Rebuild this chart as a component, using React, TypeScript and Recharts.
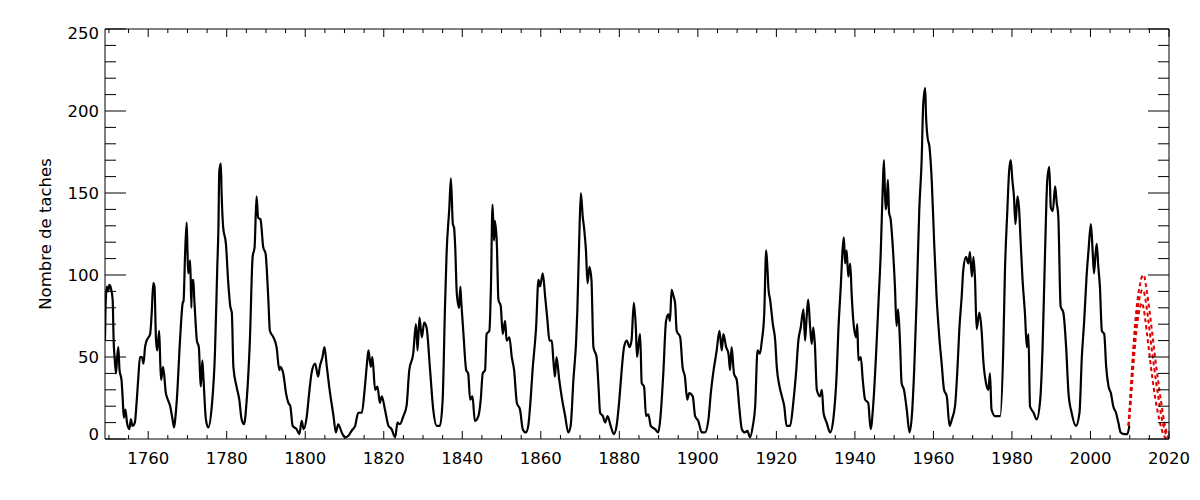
import React from 'react';
import { LineChart, Line, XAxis, YAxis } from 'recharts';

const obs1749 = [
  [1749.0, 60], [1749.2, 85], [1749.5, 93], [1749.8, 90], [1750.1, 94], [1750.5, 92], [1750.95, 85],
  [1751.2, 60], [1751.5, 48], [1751.8, 40], [1752.1, 50], [1752.4, 56], [1752.7, 42], [1753.2, 36],
  [1753.5, 25], [1753.8, 13], [1754.2, 18], [1754.6, 10], [1755.2, 6], [1755.6, 12], [1756.0, 8],
  [1756.6, 10], [1757.1, 24], [1757.5, 38], [1757.9, 50], [1758.4, 50], [1758.8, 46], [1759.2, 56],
  [1759.6, 60], [1760.1, 62], [1760.5, 64], [1760.9, 77], [1761.3, 95], [1761.6, 93], [1762.0, 60],
  [1762.3, 54], [1762.8, 66], [1763.1, 45], [1763.3, 36], [1763.8, 44], [1764.5, 28], [1765.0, 24],
  [1765.6, 20], [1766.2, 12], [1766.6, 7], [1767.0, 15], [1767.3, 24], [1768.1, 60], [1768.8, 83],
  [1769.0, 84], [1769.4, 113], [1769.8, 132], [1770.0, 115], [1770.2, 101], [1770.7, 109], [1771.0, 80],
  [1771.1, 95], [1771.5, 97], [1771.7, 87], [1772.1, 70], [1772.4, 60], [1772.9, 56], [1773.2, 40],
  [1773.4, 32], [1773.8, 48], [1774.1, 36], [1774.7, 12], [1775.3, 7], [1776.2, 20], [1777.0, 52],
  [1777.6, 105], [1777.9, 130], [1778.1, 163], [1778.5, 168], [1778.7, 150], [1779.1, 129], [1779.8, 119],
  [1780.4, 95], [1780.9, 81], [1781.3, 77], [1781.7, 44], [1782.5, 32], [1783.2, 24], [1783.8, 12],
  [1784.4, 9], [1785.1, 24], [1785.9, 60], [1786.6, 111], [1787.1, 117], [1787.6, 148], [1788.0, 135],
  [1788.6, 134], [1789.3, 117], [1789.9, 113], [1790.6, 85], [1791.0, 66], [1791.9, 62], [1792.7, 56],
  [1793.4, 42],
];

const obs1793 = [
  [1793.6, 44], [1794.4, 40], [1795.1, 28], [1795.7, 22], [1796.2, 20], [1796.8, 8], [1797.8, 6],
  [1798.5, 3], [1799.1, 11], [1799.6, 6], [1800.4, 14], [1801.0, 28], [1801.6, 40], [1802.5, 46],
  [1803.3, 38], [1803.7, 44], [1804.4, 50], [1804.9, 56], [1805.5, 44], [1806.1, 32], [1807.2, 14],
  [1807.8, 4], [1808.4, 9], [1809.3, 4], [1810.1, 1], [1811.0, 2], [1811.8, 5], [1812.7, 8],
  [1813.5, 16], [1814.4, 16], [1815.2, 32], [1815.8, 48], [1816.1, 54], [1816.7, 44], [1817.1, 50],
  [1817.8, 30], [1818.4, 32], [1819.0, 22], [1819.5, 26], [1820.3, 18], [1821.2, 8], [1822.0, 6],
  [1822.9, 1], [1823.5, 10], [1824.1, 9], [1825.0, 14], [1825.8, 20], [1826.5, 42], [1827.5, 52],
  [1828.2, 70], [1828.6, 54], [1829.1, 74], [1829.7, 62], [1830.3, 71], [1830.9, 68], [1831.8, 42],
  [1832.6, 18], [1833.5, 8], [1834.3, 8], [1835.0, 24], [1835.6, 81], [1836.0, 113], [1836.7, 141],
  [1837.1, 159], [1837.6, 131], [1837.9, 129], [1838.2, 117], [1838.6, 89], [1839.2, 80],
];

const obs1839 = [
  [1839.5, 93], [1839.7, 85], [1840.3, 64], [1841.0, 42], [1841.5, 40], [1842.0, 24], [1842.6, 26],
  [1843.2, 11], [1844.1, 14], [1844.7, 24], [1845.2, 40], [1845.8, 42], [1846.2, 64], [1846.9, 66],
  [1847.3, 93], [1847.7, 143], [1848.1, 121], [1848.3, 133], [1848.8, 119], [1849.2, 85], [1849.8, 81],
  [1850.3, 64], [1850.9, 72], [1851.3, 60], [1852.0, 62], [1852.6, 50], [1853.2, 42], [1853.9, 22],
  [1854.7, 18], [1855.4, 6], [1856.2, 4], [1856.8, 8], [1857.4, 24], [1857.9, 42], [1858.8, 68],
  [1859.4, 97], [1859.8, 93], [1860.5, 101], [1861.1, 87], [1861.7, 72], [1862.2, 60], [1862.8, 60],
  [1863.2, 48], [1863.6, 38], [1864.0, 50], [1864.7, 36], [1865.3, 26], [1866.2, 14], [1867.0, 4],
  [1867.6, 8], [1868.3, 36], [1869.0, 60], [1869.3, 78], [1869.8, 123], [1870.2, 150], [1870.7, 135],
  [1871.0, 129], [1871.5, 115], [1871.9, 95], [1872.4, 105], [1872.9, 97], [1873.4, 56], [1874.2, 50],
  [1874.7, 32], [1875.1, 16], [1875.8, 14], [1876.4, 10], [1877.0, 14], [1877.8, 8], [1878.6, 3],
  [1879.3, 8], [1880.0, 24], [1880.6, 42], [1881.2, 56], [1881.9, 60], [1882.6, 56], [1883.1, 60],
  [1883.7, 83], [1884.2, 68], [1884.5, 50], [1885.0, 60],
];

const obs1885 = [
  [1885.3, 64], [1885.7, 34], [1886.3, 32], [1886.8, 14], [1887.4, 15], [1888.0, 8], [1889.1, 6],
  [1889.9, 4], [1890.5, 14], [1891.2, 40], [1891.9, 72], [1892.5, 76], [1892.9, 72], [1893.3, 91],
  [1893.8, 87], [1894.2, 83], [1894.6, 66], [1895.5, 62], [1896.1, 44], [1896.7, 38], [1897.3, 24],
  [1897.8, 28], [1898.7, 26], [1899.3, 14], [1900.1, 11], [1901.0, 4], [1901.8, 4], [1902.7, 12],
  [1903.3, 28], [1903.9, 40], [1904.8, 54], [1905.5, 66], [1906.1, 54], [1906.5, 64], [1907.2, 56],
  [1907.8, 52], [1908.2, 42], [1908.6, 56], [1909.2, 40], [1909.9, 36], [1910.6, 18], [1911.2, 6],
  [1912.0, 4], [1912.6, 5], [1913.3, 1], [1914.0, 8], [1914.6, 20], [1915.2, 54], [1915.8, 52],
  [1916.3, 60], [1916.9, 76], [1917.4, 115], [1917.7, 105], [1918.0, 91], [1918.4, 85], [1919.1, 70],
  [1919.7, 60], [1920.1, 44], [1920.8, 32], [1921.4, 26], [1922.0, 20], [1922.6, 8], [1923.5, 8],
  [1924.3, 22], [1925.0, 40], [1925.6, 60], [1926.2, 68], [1926.9, 79], [1927.3, 60], [1927.7, 74],
  [1928.1, 85], [1928.6, 68], [1929.0, 58], [1929.4, 68], [1929.8, 58], [1930.3, 30], [1931.1, 26],
];

const obs1931 = [
  [1931.6, 30], [1932.0, 16], [1932.8, 10], [1933.7, 4], [1934.5, 12], [1935.4, 42], [1935.8, 67],
  [1936.4, 93], [1936.9, 117], [1937.2, 123], [1937.5, 107], [1937.9, 115], [1938.3, 99], [1938.8, 107],
  [1939.2, 87], [1939.6, 72], [1940.3, 62], [1940.6, 70], [1940.9, 48], [1941.5, 50], [1942.0, 36],
  [1942.6, 24], [1943.4, 22], [1944.0, 6], [1944.7, 22], [1945.4, 52], [1946.0, 83], [1946.6, 115],
  [1947.1, 154], [1947.4, 170], [1947.8, 140], [1948.1, 144], [1948.4, 158], [1948.7, 138], [1949.1, 134],
  [1949.6, 119], [1950.2, 93], [1950.6, 69], [1951.0, 79], [1951.5, 58], [1951.9, 34], [1952.5, 30],
  [1953.2, 18], [1953.9, 4], [1954.5, 14], [1955.1, 42], [1955.7, 83], [1956.4, 140], [1957.0, 170],
  [1957.4, 204], [1957.9, 214], [1958.1, 198], [1958.5, 184], [1959.0, 178], [1959.6, 156], [1960.2, 119],
  [1960.8, 87], [1961.5, 62], [1962.1, 46], [1962.7, 30], [1963.4, 26], [1964.1, 8], [1964.7, 12],
  [1965.5, 20], [1966.1, 42], [1966.6, 67], [1967.2, 87], [1967.6, 103], [1968.3, 111], [1968.9, 107],
  [1969.3, 114], [1969.8, 99], [1970.2, 111], [1970.6, 97], [1971.0, 67], [1971.7, 77], [1972.3, 65],
  [1972.7, 48], [1973.4, 34], [1974.0, 30], [1974.4, 40], [1974.8, 18], [1975.7, 14], [1976.5, 14],
];

const obs1977 = [
  [1977.0, 14], [1977.8, 56], [1978.2, 101], [1978.8, 138], [1979.3, 164], [1979.7, 170], [1980.1, 158],
  [1980.5, 148], [1980.9, 131], [1981.4, 148], [1981.8, 141], [1982.2, 121], [1982.7, 97], [1983.3, 77],
  [1983.8, 56], [1984.2, 64], [1984.6, 20], [1985.5, 16], [1986.3, 12], [1987.2, 24], [1987.8, 56],
  [1988.4, 111], [1989.0, 158], [1989.5, 166], [1989.9, 141], [1990.4, 139], [1991.0, 154], [1991.4, 144],
  [1991.8, 136], [1992.4, 81], [1993.1, 77], [1993.8, 56], [1994.4, 28], [1995.2, 16], [1996.3, 8],
  [1997.2, 16], [1997.8, 50], [1998.4, 72], [1999.0, 99], [1999.5, 115], [2000.1, 131], [2000.5, 117],
  [2000.9, 101], [2001.3, 113], [2001.6, 119], [2002.0, 105], [2002.4, 93], [2002.9, 66], [2003.5, 64],
  [2004.0, 44], [2004.6, 32], [2005.2, 28], [2005.8, 20], [2006.5, 16], [2007.1, 10], [2007.7, 4],
  [2008.6, 3], [2009.4, 3], [2009.9, 8],
];

// prévisions du cycle 24 (tirets rouges)
const predHigh = [
  [2009.7, 8], [2010.3, 32], [2010.9, 55], [2011.5, 74], [2012.0, 85], [2012.6, 94], [2013.1, 99],
  [2013.6, 100], [2014.1, 94], [2014.6, 86], [2015.1, 77], [2015.6, 67], [2016.1, 57], [2016.6, 47],
  [2017.1, 38], [2017.6, 29], [2018.1, 21], [2018.6, 13], [2019.1, 7], [2019.6, 2], [2020.0, 0],
];
const predMid = [
  [2009.7, 8], [2010.3, 28], [2010.9, 50], [2011.5, 68], [2012.0, 79], [2012.6, 87], [2013.2, 91],
  [2013.7, 89], [2014.2, 82], [2014.7, 73], [2015.2, 63], [2015.7, 53], [2016.2, 44], [2016.7, 35],
  [2017.2, 27], [2017.7, 19], [2018.2, 12], [2018.7, 7], [2019.2, 3], [2019.7, 1],
];
const predLow = [
  [2009.7, 8], [2010.3, 24], [2010.9, 44], [2011.5, 61], [2012.0, 72], [2012.6, 80], [2013.1, 83],
  [2013.5, 80], [2014.0, 72], [2014.5, 62], [2015.0, 52], [2015.5, 42], [2016.0, 33], [2016.5, 25],
  [2017.0, 18], [2017.5, 12], [2018.0, 7], [2018.5, 3], [2019.0, 1], [2019.4, 0],
];

const xTicks = Array.from({ length: 55 }, (_, i) => 1750 + i * 5);
const yTicks = Array.from({ length: 26 }, (_, i) => i * 10);

const toPts = (arr: number[][]) => arr.map(([x, y]) => ({ x, y }));
const observed = toPts([...obs1749, ...obs1793, ...obs1839, ...obs1885, ...obs1931, ...obs1977]);

const FONT = '"DejaVu Sans", sans-serif';

function XTick({ x, y, payload, side }: any) {
  const v = payload.value;
  const major = v % 20 === 0;
  const len = major ? 8 : 4;
  const dir = side === 'top' ? 1 : -1;
  return (
    <g>
      <line x1={x} y1={y} x2={x} y2={y + dir * len} stroke="#000" strokeWidth={1} />
      {side === 'bottom' && major && (
        <text x={x} y={y + 25} textAnchor="middle" fontSize={16.5} fontFamily={FONT} fill="#000">{v}</text>
      )}
    </g>
  );
}

function YTick({ x, y, payload, side }: any) {
  const v = payload.value;
  const major = v % 50 === 0;
  const len = major ? 21 : 11;
  const dir = side === 'left' ? 1 : -1;
  const dy = v === 0 ? 1 : v === 250 ? 10 : 6;
  return (
    <g>
      <line x1={x} y1={y} x2={x + dir * len} y2={y} stroke="#000" strokeWidth={1} />
      {side === 'left' && major && (
        <text x={x - 6} y={y + dy} textAnchor="end" fontSize={16.5} fontFamily={FONT} fill="#000">{v}</text>
      )}
    </g>
  );
}

const predStyle = { stroke: '#e00000', strokeWidth: 2, strokeDasharray: '4 3' };

export default function App() {
  return (
    <div style={{ position: 'absolute', left: 0, top: 0, background: '#fff' }}>
      <LineChart width={1200} height={500} margin={{ top: 28, right: 30, bottom: 0, left: 0 }}>
        <XAxis xAxisId="b" dataKey="x" type="number" domain={[1749, 2020]} allowDataOverflow
          ticks={xTicks} interval={0} tickSize={0} tickMargin={0} tickLine={false} height={61}
          axisLine={{ stroke: '#000' }} tick={(p: any) => <XTick {...p} side="bottom" />} />
        <XAxis xAxisId="t" orientation="top" dataKey="x" type="number" domain={[1749, 2020]} allowDataOverflow
          ticks={xTicks} interval={0} tickSize={0} tickMargin={0} tickLine={false} height={1}
          axisLine={{ stroke: '#000' }} tick={(p: any) => <XTick {...p} side="top" />} />
        <YAxis yAxisId="l" type="number" domain={[0, 250]} allowDataOverflow ticks={yTicks} interval={0}
          tickSize={0} tickMargin={0} tickLine={false} width={105} axisLine={{ stroke: '#000' }}
          tick={(p: any) => <YTick {...p} side="left" />}
          label={({ viewBox }: any) => {
            const cx = viewBox.x + 45;
            const cy = viewBox.y + viewBox.height / 2;
            return (
              <text x={cx} y={cy} transform={`rotate(-90 ${cx} ${cy})`} textAnchor="middle"
                dominantBaseline="central" fontSize={16.5} fontFamily={FONT} fill="#000">
                Nombre de taches
              </text>
            );
          }} />
        <YAxis yAxisId="r" orientation="right" type="number" domain={[0, 250]} allowDataOverflow ticks={yTicks}
          interval={0} tickSize={0} tickMargin={0} tickLine={false} width={1} axisLine={{ stroke: '#000' }}
          tick={(p: any) => <YTick {...p} side="right" />} />
        <Line xAxisId="t" yAxisId="r" data={toPts(predHigh)} dataKey="y" stroke="none" dot={false}
          legendType="none" isAnimationActive={false} />
        <Line xAxisId="b" yAxisId="l" data={observed} dataKey="y" type="monotone" stroke="#000"
          strokeWidth={2.2} dot={false} isAnimationActive={false} />
        <Line xAxisId="b" yAxisId="l" data={toPts(predHigh)} dataKey="y" type="monotone" {...predStyle}
          dot={false} isAnimationActive={false} />
        <Line xAxisId="b" yAxisId="l" data={toPts(predMid)} dataKey="y" type="monotone" {...predStyle}
          dot={false} isAnimationActive={false} />
        <Line xAxisId="b" yAxisId="l" data={toPts(predLow)} dataKey="y" type="monotone" {...predStyle}
          dot={false} isAnimationActive={false} />
      </LineChart>
    </div>
  );
}
